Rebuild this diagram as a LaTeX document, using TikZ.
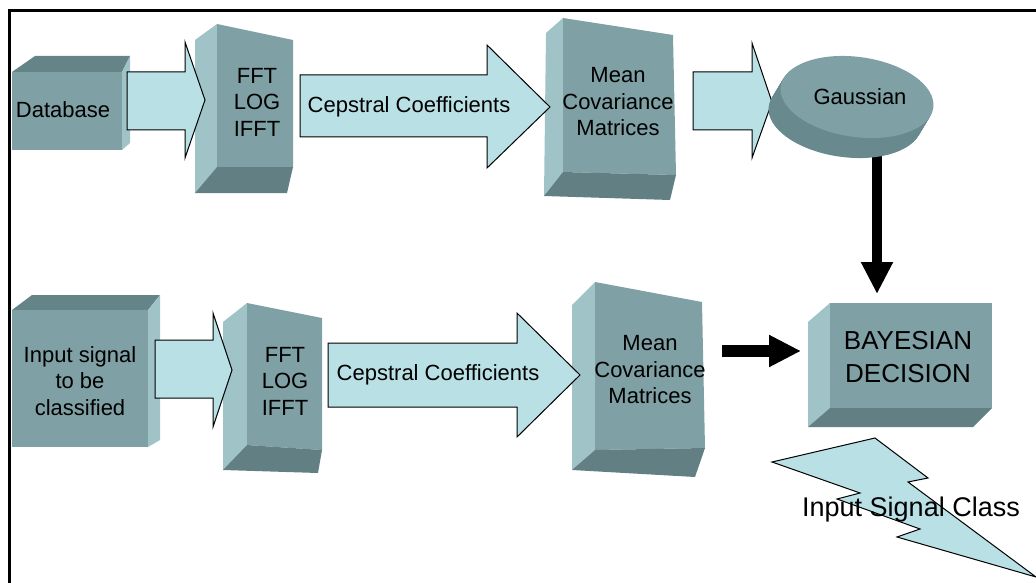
\documentclass[tikz,border=0pt]{standalone}
\usepackage{fontspec}
\setmainfont{Liberation Sans}
\usetikzlibrary{arrows.meta}
\definecolor{frontc}{RGB}{127,160,164}
\definecolor{topc}{RGB}{100,132,136}
\definecolor{sidec}{RGB}{160,195,200}
\definecolor{botc}{RGB}{98,128,132}
\definecolor{arrowc}{RGB}{185,224,229}
\definecolor{gsidec}{RGB}{104,138,142}
\newcommand\blkarrow[8]{\draw[blockarrow] (#1,#4) -- (#2,#4) -- (#2,#6) -- (#3,#8) -- (#2,#7) -- (#2,#5) -- (#1,#5) -- cycle;}
\begin{document}
\begin{tikzpicture}[x=1pt,y=-1pt,
  frontface/.style={fill=frontc},
  topface/.style={fill=topc},
  sideface/.style={fill=sidec},
  botface/.style={fill=botc},
  blockarrow/.style={fill=arrowc,draw=black,line width=1pt,line join=miter},
  lbl/.style={font=\fontsize{22}{26.5}\selectfont,align=center,inner sep=0pt},
  biglbl/.style={font=\fontsize{26}{33}\selectfont,align=center,inner sep=0pt},
  bigarrow/.style={line width=10pt,-{Triangle[width=30pt,length=32pt]}},
]
\useasboundingbox (0,0) rectangle (1036,583);
\fill[white] (0,0) rectangle (1036,583);
\draw[line width=3pt] (9,583) -- (9,11) -- (1036,11);

% ---------- top row ----------
% Database box
\fill[topface] (12,72) -- (35,56) -- (130,56) -- (122,72) -- cycle;
\fill[sideface] (122,72) -- (130,56) -- (130,143) -- (122,150) -- cycle;
\fill[frontface] (12,72) rectangle (122,150);
\node[lbl] (db) at (63,110) {Database};

% FFT box (top)
\fill[sideface] (195,40) -- (217,24) -- (217,167) -- (195,193) -- cycle;
\fill[frontface] (217,24) -- (293,40) -- (293,167) -- (217,167) -- cycle;
\fill[botface] (217,167) -- (293,167) -- (287,193) -- (195,193) -- cycle;
\node[lbl] (fft1) at (257,102) {FFT\\LOG\\IFFT};

% Mean box (top)
\fill[sideface] (546,33) -- (563,18) -- (563,172) -- (544,196) -- cycle;
\fill[frontface] (563,18) -- (673,35) -- (676,175) -- (563,172) -- cycle;
\fill[botface] (563,172) -- (676,175) -- (670,200) -- (544,196) -- cycle;
\node[lbl] (mean1) at (618,102) {Mean\\Covariance\\Matrices};

% block arrows (top)
\blkarrow{127}{185}{205}{72}{130}{42}{158}{100}
\blkarrow{300}{487}{550}{75}{137}{45}{168}{107}
\blkarrow{693}{752}{772}{72}{130}{43}{158}{102}
\node[lbl] (cep1) at (409,107) {Cepstral Coefficients};

% arrow Gaussian -> Bayesian
\coordinate (gout) at (877,148);
\coordinate (bin1) at (877,294);
\draw[bigarrow] (gout) -- (bin1);

% Gaussian disk
\foreach \t in {0,0.05,...,1.0}{
  \fill[gsidec, rotate around={-8:({857-12*(1-\t)},{97+20*(1-\t)})}]
    ({857-12*(1-\t)},{97+20*(1-\t)}) ellipse [x radius=77, y radius=40];
}
\fill[frontface, rotate around={-8:(857,97)}] (857,97) ellipse [x radius=77, y radius=40];
\node[lbl] (gauss) at (860,97) {Gaussian};

% ---------- bottom row ----------
% Input signal box
\fill[topface] (12,310) -- (32,295) -- (160,295) -- (148,310) -- cycle;
\fill[sideface] (148,310) -- (160,295) -- (160,440) -- (148,447) -- cycle;
\fill[frontface] (12,310) rectangle (148,447);
\node[lbl] (inp) at (80,381) {Input signal\\to be\\classified};

% FFT box (bottom)
\fill[sideface] (223,322) -- (247,303) -- (247,445) -- (223,470) -- cycle;
\fill[frontface] (247,303) -- (322,318) -- (322,450) -- (247,445) -- cycle;
\fill[botface] (247,445) -- (322,450) -- (318,473) -- (223,470) -- cycle;
\node[lbl] (fft2) at (285,381) {FFT\\LOG\\IFFT};

% Mean box (bottom)
\fill[sideface] (572,305) -- (595,282) -- (595,450) -- (572,470) -- cycle;
\fill[frontface] (595,282) -- (702,302) -- (705,448) -- (595,450) -- cycle;
\fill[botface] (595,450) -- (705,448) -- (695,477) -- (572,470) -- cycle;
\node[lbl] (mean2) at (650,370) {Mean\\Covariance\\Matrices};

% block arrows (bottom)
\blkarrow{155}{213}{232}{340}{398}{313}{427}{370}
\blkarrow{328}{517}{580}{343}{407}{313}{437}{375}
\node[lbl] (cep2) at (438,375) {Cepstral Coefficients};

% Bayesian box
\fill[sideface] (808,322) -- (830,303) -- (830,408) -- (808,427) -- cycle;
\fill[frontface] (830,303) rectangle (992,408);
\fill[botface] (830,408) -- (992,408) -- (973,427) -- (808,427) -- cycle;
\node[biglbl] (bayes) at (908,357) {BAYESIAN\\DECISION};

% arrow Mean -> Bayesian
\coordinate (mout) at (722,351);
\coordinate (bin2) at (801,351);
\draw[bigarrow,line width=12pt] (mout) -- (bin2);

% lightning bolt
\draw[blockarrow] (772,462) -- (875,438) -- (928,478) -- (908,482) -- (1036,577)
  -- (897,537) -- (920,529) -- (837,499) -- (860,493) -- cycle;
\node[font=\fontsize{27}{32}\selectfont,inner sep=0pt] (cls) at (911,510) {Input Signal Class};
\end{tikzpicture}
\end{document}
